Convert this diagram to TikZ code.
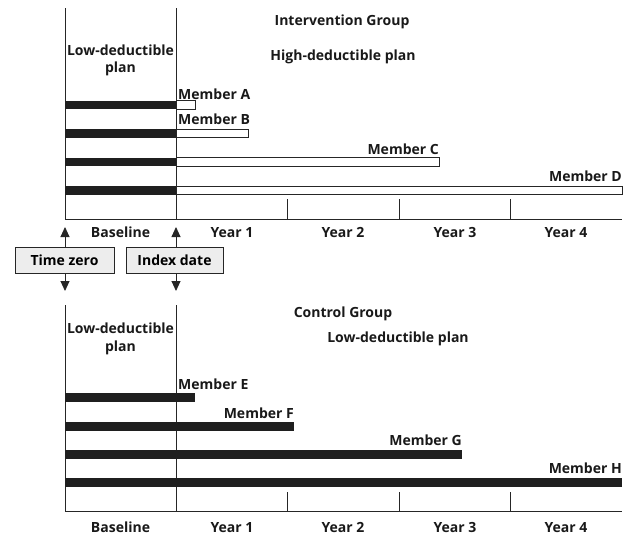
\documentclass[tikz,border=0pt]{standalone}
\usepackage{fontspec}
\setmainfont{Open Sans}
\usetikzlibrary{arrows.meta}
\begin{document}
\begin{tikzpicture}[x=1pt,y=-1pt,
  font=\bfseries\fontsize{14}{16}\selectfont,
  axis/.style={line width=0.9pt, draw=black!85},
  lowbar/.style={fill=black!88, draw=none},
  highbar/.style={fill=white, draw=black!85, line width=0.8pt},
  txt/.style={inner sep=0pt, text=black!90},
  cbox/.style={draw=black!85, line width=0.8pt, fill=black!7, minimum height=26pt, inner sep=0pt},
  pointer/.style={line width=0.9pt, draw=black!85, -{Triangle[width=9pt,length=10pt]}}]
\useasboundingbox (0,0) rectangle (636,546);

% ---------- top panel ----------
\coordinate (tL0) at (65,8);   \coordinate (tL1) at (65,219);
\coordinate (tI0) at (176,8);  \coordinate (tI1) at (176,219);
\coordinate (tR)  at (622,219);
\draw[axis] (tL0) -- (tL1) -- (tR);
\draw[axis] (tI0) -- (tI1);
\foreach \x in {287,399,510} \draw[axis] (\x,199) -- (\x,219);

\fill[lowbar] (65,100.5) rectangle (176,109);
\draw[highbar] (176,100.5) rectangle (195,109);
\fill[lowbar] (65,129) rectangle (176,137.5);
\draw[highbar] (176,129) rectangle (248,137.5);
\fill[lowbar] (65,157.5) rectangle (176,166);
\draw[highbar] (176,157.5) rectangle (439,166);
\fill[lowbar] (65,186) rectangle (176,194.5);
\draw[highbar] (176,186) rectangle (622,194.5);

\node[txt, anchor=base west] (mA) at (178,99) {Member A};
\node[txt, anchor=base west] (mB) at (178,124) {Member B};
\node[txt, anchor=base east] (mC) at (439,154) {Member C};
\node[txt, anchor=base east] (mD) at (622,181) {Member D};

\node[txt, anchor=base] (ig) at (342,25) {Intervention Group};
\node[txt, anchor=base] (hd) at (343,60) {High-deductible plan};
\node[txt, anchor=base] (ld1) at (120.5,55) {Low-deductible};
\node[txt, anchor=base] (ld2) at (120.5,72) {plan};

\node[txt, anchor=base] (bl1) at (120.5,237) {Baseline};
\node[txt, anchor=base] (y11) at (232,237) {Year 1};
\node[txt, anchor=base] (y21) at (343,237) {Year 2};
\node[txt, anchor=base] (y31) at (455,237) {Year 3};
\node[txt, anchor=base] (y41) at (566,237) {Year 4};

% ---------- middle boxes ----------
\node[cbox, minimum width=99pt] (tz) at (64.5,260) {Time zero};
\node[cbox, minimum width=97pt] (id) at (174.5,260) {Index date};
\coordinate (tzU) at (65,227); \coordinate (tzD) at (65,291);
\coordinate (idU) at (176,227); \coordinate (idD) at (176,291);
\draw[pointer] (tz.north -| tzU) -- (tzU);
\draw[pointer] (tz.south -| tzD) -- (tzD);
\draw[pointer] (id.north -| idU) -- (idU);
\draw[pointer] (id.south -| idD) -- (idD);

% ---------- bottom panel ----------
\coordinate (bL0) at (65,305);   \coordinate (bL1) at (65,511);
\coordinate (bI0) at (176,305);  \coordinate (bI1) at (176,511);
\coordinate (bR)  at (622,511);
\draw[axis] (bL0) -- (bL1) -- (bR);
\draw[axis] (bI0) -- (bI1);
\foreach \x in {287,399,510} \draw[axis] (\x,492) -- (\x,511);

\fill[lowbar] (65,393) rectangle (195,402);
\fill[lowbar] (65,422) rectangle (294,430.5);
\fill[lowbar] (65,450) rectangle (462,458.5);
\fill[lowbar] (65,478) rectangle (622,487);

\node[txt, anchor=base west] (mE) at (178,389) {Member E};
\node[txt, anchor=base east] (mF) at (294,418) {Member F};
\node[txt, anchor=base east] (mG) at (462,445) {Member G};
\node[txt, anchor=base east] (mH) at (622,473) {Member H};

\node[txt, anchor=base] (cg) at (343,317) {Control Group};
\node[txt, anchor=base] (ldr) at (398,342) {Low-deductible plan};
\node[txt, anchor=base] (ld3) at (120.5,333) {Low-deductible};
\node[txt, anchor=base] (ld4) at (120.5,351) {plan};

\node[txt, anchor=base] (bl2) at (120.5,532) {Baseline};
\node[txt, anchor=base] (y12) at (232,532) {Year 1};
\node[txt, anchor=base] (y22) at (343,532) {Year 2};
\node[txt, anchor=base] (y32) at (455,532) {Year 3};
\node[txt, anchor=base] (y42) at (566,532) {Year 4};
\end{tikzpicture}
\end{document}
